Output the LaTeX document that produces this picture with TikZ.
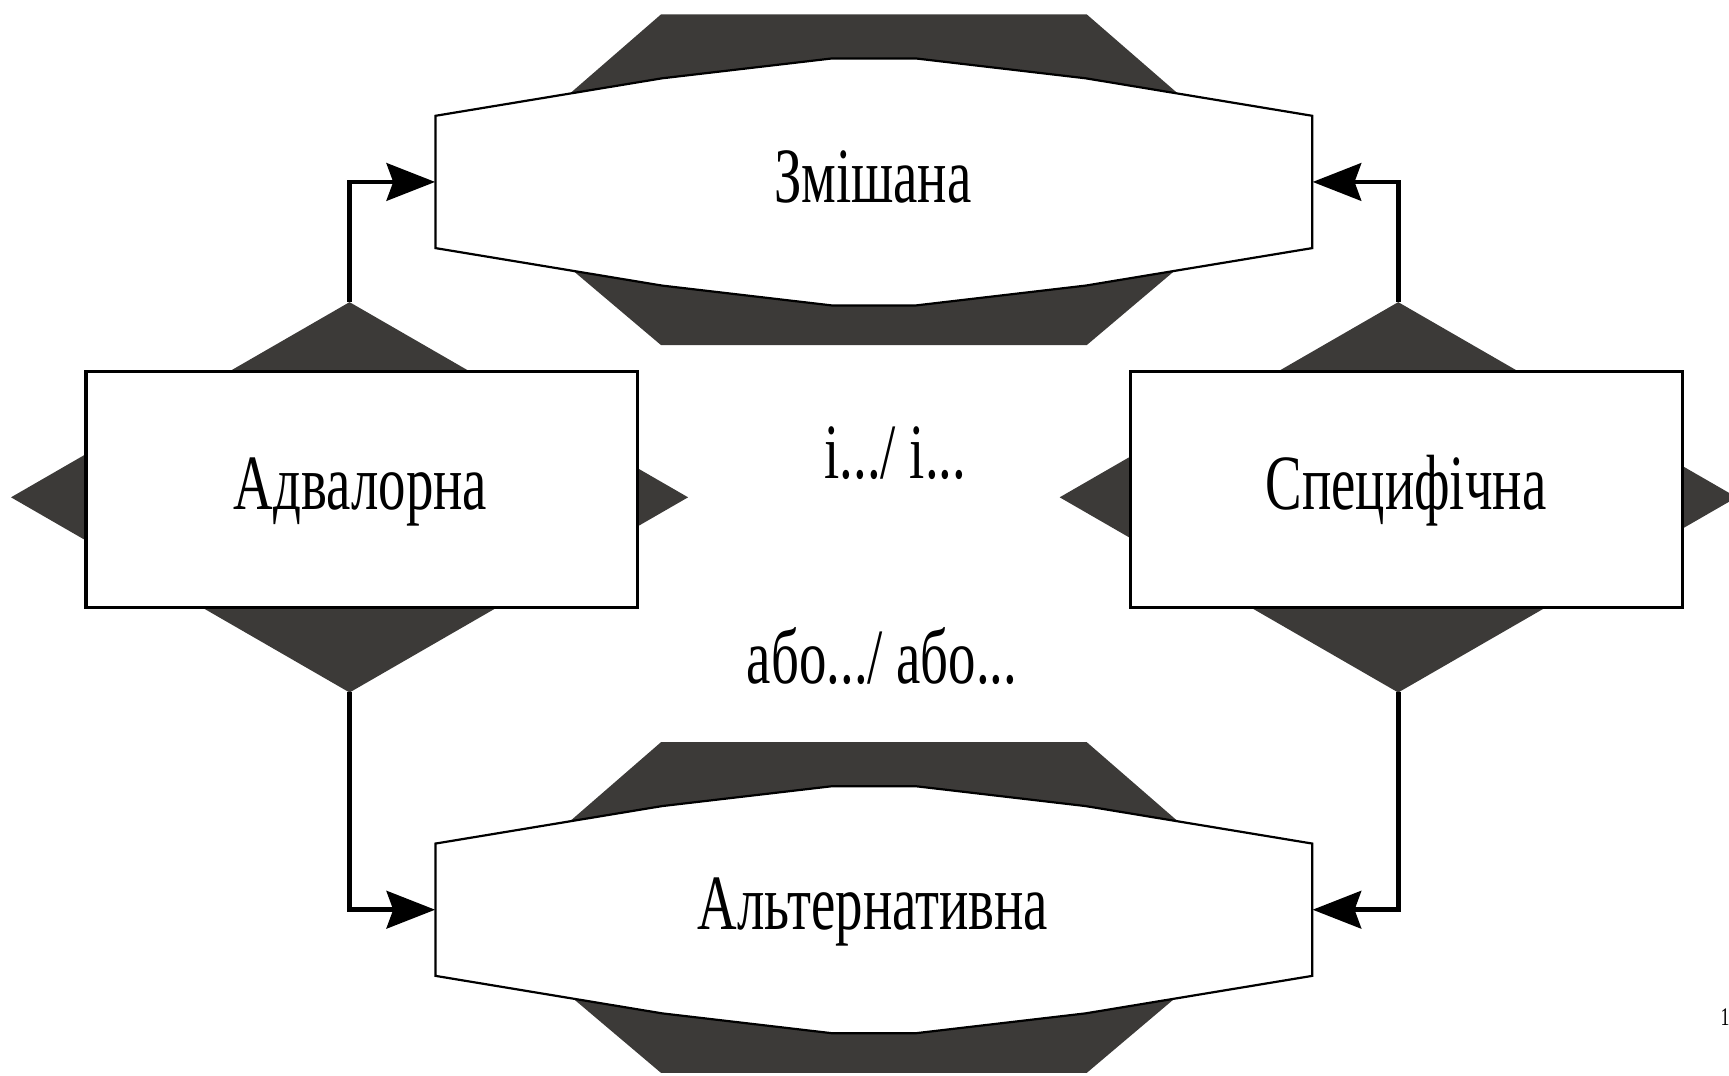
\documentclass[tikz,border=0pt]{standalone}
\usepackage{fontspec}
\newfontfamily\labfont[FakeStretch=0.7]{Liberation Serif}
\usetikzlibrary{arrows.meta}
\definecolor{darkfill}{RGB}{60,58,56}
\tikzset{
  darkpart/.style={fill=darkfill},
  lensline/.style={fill=white,draw=black,line width=1pt,line join=miter},
  lens/.pic={
    \fill[darkpart] (-193,-152) -- (193,-152) -- (368,0) -- (193,148) -- (-193,148) -- (-368,0) -- cycle;
    \filldraw[lensline] (-397.5,-60) -- (-192,-94) -- (-38,-112) -- (38,-112) -- (192,-94) -- (397.5,-60)
      -- (397.5,60) -- (192,94) -- (38,112) -- (-38,112) -- (-192,94) -- (-397.5,60) -- cycle;
  },
  lensnode/.style={minimum width=397.5pt,minimum height=60pt,inner sep=0pt,
    font=\labfont\fontsize{35.5pt}{40pt}\selectfont},
  boxnode/.style={draw=black,fill=white,line width=1.5pt,minimum width=250pt,minimum height=107pt,
    inner sep=0pt,font=\labfont\fontsize{35.5pt}{40pt}\selectfont},
  labeltext/.style={font=\labfont\fontsize{35.5pt}{40pt}\selectfont,inner sep=0pt,anchor=base},
  conn/.style={draw=black,line width=2.2pt,-{Stealth[length=22pt,width=17pt,inset=3pt]}},
}
\begin{document}
\begin{tikzpicture}[x=0.5pt,y=-0.5pt]
\useasboundingbox (0,0) rectangle (1568,975);
% lens shapes
\pic at (792.5,165) {lens};
\pic at (792.5,825) {lens};
\node[lensnode] (zm) at (792.5,165) {};
\node[lensnode] (alt) at (792.5,825) {};
\node[labeltext] (zmt) at (791.5,184) {Змішана};
\node[labeltext] (altt) at (791.5,843) {Альтернативна};
% diamonds
\fill[darkpart] (317,274) coordinate (dlt) -- (624,451) -- (317,628) coordinate (dlb) -- (10,451) -- cycle;
\fill[darkpart] (1268,274) coordinate (drt) -- (1575,451) -- (1268,628) coordinate (drb) -- (961,451) -- cycle;
% boxes
\node[boxnode] (adv) at (328,444) {};
\node[boxnode,minimum width=250.5pt] (spec) at (1275.5,444) {};
\node[labeltext] (advt) at (327,462) {Адвалорна};
\node[labeltext] (spect) at (1275,462) {Специфічна};
% connectors
\draw[conn] (dlt) |- (zm.west);
\draw[conn] (dlb) |- (alt.west);
\draw[conn] (drt) |- (zm.east);
\draw[conn] (drb) |- (alt.east);
% middle texts
\node[labeltext] (and) at (812,434) {і.../ і...};
\node[labeltext] (or) at (800,620) {або.../ або...};
% page number fragment
\node[font=\labfont\fontsize{11.5pt}{13pt}\selectfont,inner sep=0pt,anchor=base west] (pg) at (1560,930) {1};
\end{tikzpicture}
\end{document}
